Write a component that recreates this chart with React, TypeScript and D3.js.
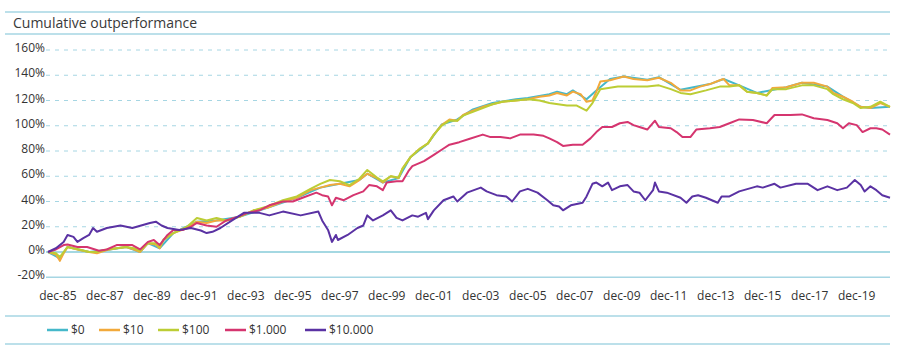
import React, { useEffect } from "react";
import * as d3 from "d3";

type Pt = [string, number];

const seriesNames = ["$0", "$10", "$100", "$1.000", "$10.000"];
const seriesColors = ["#45b8ca", "#f2a93b", "#bccd35", "#d5356f", "#5a32a3"];

const s0: Pt[] = [
  ["1985-07", 0], ["1986-01", -5], ["1986-05", 4], ["1987-04", 0], ["1988-01", 1.5], ["1988-11", 4],
  ["1989-06", 0], ["1989-10", 7], ["1990-04", 3], ["1990-11", 15], ["1991-11", 24], ["1992-09", 25],
  ["1993-09", 28], ["1994-11", 35], ["1996-02", 43], ["1997-02", 51], ["1997-12", 54], ["1998-10", 57],
  ["1999-02", 62], ["1999-10", 55], ["2000-06", 58.5], ["2000-12", 75], ["2001-09", 86], ["2002-04", 101],
  ["2002-12", 105], ["2003-08", 113], ["2004-06", 118], ["2005-06", 121], ["2005-12", 122], ["2006-11", 125],
  ["2007-03", 127], ["2007-08", 125], ["2007-11", 128], ["2008-06", 121], ["2008-11", 128], ["2009-06", 137],
  ["2010-01", 139], ["2011-01", 136.5], ["2011-07", 138.5], ["2012-06", 128.5], ["2013-09", 133], ["2014-04", 137],
  ["2014-12", 132], ["2015-09", 126], ["2016-12", 130.5], ["2017-08", 134], ["2018-09", 131], ["2019-05", 123],
  ["2020-02", 115], ["2020-07", 114], ["2021-05", 115],
];

const s10: Pt[] = [
  ["1985-07", 0], ["1985-11", -2], ["1986-01", -7], ["1986-03", -1], ["1986-05", 4], ["1986-11", 1.5],
  ["1987-04", 0], ["1987-08", -1], ["1988-01", 1.5], ["1988-06", 3], ["1988-11", 4], ["1989-03", 2],
  ["1989-06", 0], ["1989-10", 7], ["1990-02", 6], ["1990-04", 3], ["1990-06", 9.5], ["1990-11", 15],
  ["1991-06", 19], ["1991-11", 24], ["1992-04", 23], ["1992-09", 25], ["1993-02", 25], ["1993-09", 28],
  ["1994-04", 33], ["1994-11", 35], ["1995-07", 40], ["1996-02", 43], ["1996-09", 49], ["1997-02", 51],
  ["1997-07", 53], ["1997-12", 54], ["1998-05", 52], ["1998-10", 57], ["1999-02", 62], ["1999-07", 58.5],
  ["1999-10", 55], ["2000-02", 60], ["2000-06", 58.5], ["2000-08", 66], ["2000-12", 75], ["2001-05", 82],
  ["2001-09", 86], ["2001-12", 93], ["2002-04", 100.5], ["2002-08", 105], ["2002-12", 104], ["2003-03", 108.5],
  ["2003-08", 112], ["2004-01", 115], ["2004-06", 117], ["2004-11", 119], ["2005-06", 120], ["2005-12", 121],
  ["2006-06", 123], ["2006-11", 124], ["2007-03", 126], ["2007-08", 124], ["2007-11", 127], ["2008-03", 125],
  ["2008-06", 119], ["2008-09", 120], ["2008-11", 127], ["2009-01", 135], ["2009-06", 136], ["2010-01", 139],
  ["2010-06", 137], ["2011-01", 136], ["2011-07", 138], ["2012-01", 134], ["2012-06", 128], ["2012-11", 128],
  ["2013-04", 131], ["2013-09", 133], ["2014-02", 136], ["2014-04", 137], ["2014-07", 132], ["2014-12", 132],
  ["2015-04", 127], ["2015-09", 126], ["2016-02", 124], ["2016-05", 130], ["2016-12", 130.5], ["2017-08", 134],
  ["2018-02", 134], ["2018-09", 131], ["2018-12", 126], ["2019-05", 123], ["2019-10", 119], ["2020-02", 115],
  ["2020-07", 114], ["2020-12", 118], ["2021-05", 115],
];

const s100: Pt[] = [
  ["1985-07", 0], ["1985-11", -1], ["1986-01", -4], ["1986-03", 0], ["1986-05", 4], ["1986-11", 2],
  ["1987-04", 0], ["1987-08", 0], ["1988-01", 2], ["1988-06", 3], ["1988-11", 4], ["1989-03", 3],
  ["1989-06", 1], ["1989-10", 7], ["1990-02", 7], ["1990-04", 4], ["1990-06", 10], ["1990-11", 15],
  ["1991-06", 20], ["1991-11", 27], ["1992-04", 25], ["1992-09", 27], ["1993-02", 25], ["1993-09", 28],
  ["1994-04", 33], ["1994-11", 36], ["1995-07", 41], ["1996-02", 44], ["1996-09", 50], ["1997-02", 54],
  ["1997-07", 57], ["1997-12", 56], ["1998-05", 53], ["1998-10", 58], ["1999-02", 65], ["1999-07", 59],
  ["1999-10", 56], ["2000-02", 60], ["2000-06", 59], ["2000-08", 66], ["2000-12", 75], ["2001-05", 82],
  ["2001-09", 86], ["2001-12", 93], ["2002-04", 100], ["2002-08", 104], ["2002-12", 104], ["2003-03", 108],
  ["2003-08", 111], ["2004-01", 114], ["2004-06", 117], ["2004-11", 119], ["2005-06", 120], ["2005-12", 121],
  ["2006-06", 120], ["2006-11", 118], ["2007-08", 116], ["2008-01", 116], ["2008-06", 112], ["2008-09", 118],
  ["2009-01", 129], ["2009-10", 131], ["2010-06", 131], ["2011-01", 131], ["2011-07", 132], ["2012-01", 129],
  ["2012-06", 126], ["2012-11", 125], ["2013-07", 128], ["2014-02", 131], ["2014-07", 131], ["2014-12", 132],
  ["2015-04", 127], ["2015-09", 126], ["2016-02", 124], ["2016-05", 129], ["2016-12", 129], ["2017-08", 132],
  ["2018-02", 132], ["2018-09", 129], ["2018-12", 125], ["2019-05", 121], ["2019-10", 118], ["2020-02", 114],
  ["2020-07", 115], ["2020-12", 119], ["2021-05", 115],
];

const s1000: Pt[] = [
  ["1985-07", 0], ["1985-11", 2], ["1986-03", 5.5], ["1986-05", 6], ["1986-10", 4], ["1987-03", 4],
  ["1987-09", 1], ["1988-01", 2], ["1988-06", 5.5], ["1989-02", 5.5], ["1989-06", 2], ["1989-10", 8],
  ["1990-01", 9.5], ["1990-04", 5.5], ["1990-08", 13.5], ["1990-11", 17.5], ["1991-04", 17.5], ["1991-08", 20],
  ["1991-11", 23], ["1992-04", 21], ["1992-09", 20], ["1993-02", 25], ["1993-08", 28], ["1994-01", 31],
  ["1994-07", 33], ["1994-12", 37], ["1995-07", 40], ["1995-12", 40], ["1996-05", 43], ["1996-12", 47],
  ["1997-03", 45], ["1997-06", 44], ["1997-08", 37], ["1997-10", 43], ["1998-02", 41], ["1998-07", 45],
  ["1998-12", 48], ["1999-03", 53], ["1999-07", 52], ["1999-10", 49], ["1999-12", 55], ["2000-05", 56],
  ["2000-08", 56], ["2000-11", 64], ["2001-01", 68], ["2001-07", 72], ["2001-12", 77], ["2002-05", 82],
  ["2002-08", 85], ["2003-01", 87], ["2003-06", 89.5], ["2004-01", 93], ["2004-05", 91], ["2004-10", 91],
  ["2005-03", 90], ["2005-08", 93], ["2006-03", 93], ["2006-08", 92], ["2006-11", 90], ["2007-03", 87],
  ["2007-06", 84], ["2007-11", 85], ["2008-04", 85], ["2008-08", 90], ["2008-11", 95], ["2009-02", 99],
  ["2009-07", 99], ["2009-11", 102], ["2010-03", 103], ["2010-06", 100.5], ["2010-09", 99], ["2011-01", 97],
  ["2011-05", 104], ["2011-07", 99], ["2012-01", 98], ["2012-04", 95], ["2012-07", 91], ["2012-11", 91],
  ["2013-02", 97], ["2013-09", 98], ["2014-02", 99], ["2014-07", 102], ["2014-12", 105], ["2015-07", 104.5],
  ["2016-02", 102], ["2016-06", 108.5], ["2017-02", 108.5], ["2017-08", 109], ["2018-02", 106], ["2018-09", 104.5],
  ["2019-02", 102], ["2019-05", 98], ["2019-08", 102], ["2019-12", 100.5], ["2020-03", 95], ["2020-07", 98],
  ["2020-10", 98], ["2021-01", 97], ["2021-05", 93],
];

const s10000: Pt[] = [
  ["1985-07", 0], ["1985-11", 3], ["1986-03", 8], ["1986-05", 13.5], ["1986-08", 12], ["1986-10", 8],
  ["1987-01", 11], ["1987-04", 13.5], ["1987-06", 19], ["1987-08", 16], ["1988-01", 19], ["1988-08", 21],
  ["1989-02", 19], ["1989-11", 23], ["1990-02", 24], ["1990-05", 21], ["1990-08", 19], ["1991-02", 17.5],
  ["1991-08", 19], ["1992-01", 17], ["1992-04", 15], ["1992-07", 16], ["1992-11", 19], ["1993-05", 25],
  ["1993-11", 31], ["1994-07", 31], ["1994-12", 29], ["1995-07", 32], ["1996-04", 29], ["1997-01", 32],
  ["1997-03", 25], ["1997-06", 17.5], ["1997-08", 8], ["1997-10", 13.5], ["1997-11", 9.5], ["1998-04", 13.5],
  ["1998-09", 19], ["1998-12", 21], ["1999-02", 29], ["1999-05", 25], ["1999-10", 29], ["2000-02", 33],
  ["2000-05", 27], ["2000-08", 25], ["2001-01", 29], ["2001-04", 28], ["2001-08", 31], ["2001-09", 26],
  ["2001-12", 33], ["2002-05", 41], ["2002-10", 44], ["2002-12", 40], ["2003-05", 47], ["2003-12", 51],
  ["2004-03", 48], ["2004-08", 45], ["2005-01", 44], ["2005-04", 40], ["2005-08", 48], ["2005-12", 50],
  ["2006-05", 47], ["2006-10", 41], ["2007-01", 37], ["2007-04", 36], ["2007-06", 33], ["2007-10", 37],
  ["2008-04", 39], ["2008-06", 44], ["2008-09", 54], ["2008-11", 55], ["2009-02", 52], ["2009-05", 55],
  ["2009-07", 49], ["2009-11", 52], ["2010-03", 53], ["2010-06", 48], ["2010-09", 47], ["2010-12", 41],
  ["2011-04", 49], ["2011-05", 55], ["2011-07", 48], ["2011-11", 47], ["2012-06", 43], ["2012-09", 39],
  ["2012-12", 44], ["2013-03", 45], ["2013-07", 43], ["2014-01", 39], ["2014-03", 44], ["2014-07", 44],
  ["2014-12", 48], ["2015-09", 52], ["2015-12", 51], ["2016-06", 54], ["2016-09", 51], ["2017-05", 54],
  ["2017-11", 54], ["2018-04", 49], ["2018-09", 52], ["2019-02", 49], ["2019-07", 51], ["2019-11", 57],
  ["2020-02", 53], ["2020-04", 48], ["2020-07", 52], ["2020-10", 49], ["2021-01", 45], ["2021-05", 43],
];

const allSeries = [s0, s10, s100, s1000, s10000];

const yTicks = [-20, 0, 20, 40, 60, 80, 100, 120, 140, 160];
const xTickYears = [1985, 1987, 1989, 1991, 1993, 1995, 1997, 1999, 2001, 2003, 2005, 2007, 2009, 2011, 2013, 2015, 2017, 2019];

const FONT = "'Open Sans', 'Noto Sans', sans-serif";
const W = 907;
const H = 357;

export default function App() {
  useEffect(() => {
    document.body.style.margin = "0";
  }, []);

  const parse = d3.timeParse("%Y-%m");
  const x = d3
    .scaleTime()
    .domain([new Date(1985, 6, 1), new Date(2021, 4, 1)])
    .range([48, 890]);
  const y = d3.scaleLinear().domain([-20, 160]).range([277.25, 50]);

  const line = d3
    .line<Pt>()
    .x((d) => x(parse(d[0]) as Date))
    .y((d) => y(d[1]))
    .curve(d3.curveLinear);

  const ruleColor = "#a6d6e3";
  const legendX = [47, 99, 158, 225, 305];

  return (
    <svg width={W} height={H} style={{ position: "absolute", left: 0, top: 0, display: "block" }} fontFamily={FONT}>
      <rect width={W} height={H} fill="#ffffff" />
      <line x1={5} x2={890} y1={12} y2={12} stroke={ruleColor} strokeWidth={1.5} />
      <text x={13} y={28} fontSize={14} fill="#3a3a3a">Cumulative outperformance</text>
      <line x1={5} x2={890} y1={34} y2={34} stroke={ruleColor} strokeWidth={1.5} />

      {yTicks.map((t) => (
        <g key={t}>
          {t === 0 || t === -20 ? (
            <line x1={46} x2={890} y1={y(t)} y2={y(t)} stroke={t === 0 ? "#86cbd9" : ruleColor} strokeWidth={1.5} />
          ) : (
            <line x1={46} x2={890} y1={y(t)} y2={y(t)} stroke={ruleColor} strokeWidth={1} strokeDasharray="4,5" />
          )}
          <text x={45} y={y(t) + 2} fontSize={12} fill="#333" textAnchor="end">{t}%</text>
        </g>
      ))}

      {xTickYears.map((yr) => (
        <text key={yr} x={x(new Date(yr, 11, 1))} y={300} fontSize={12} fill="#333" textAnchor="middle">
          {"dec-" + String(yr).slice(2)}
        </text>
      ))}

      {allSeries.map((s, i) => (
        <path key={i} d={line(s) || ""} fill="none" stroke={seriesColors[i]} strokeWidth={2} strokeLinejoin="round" />
      ))}

      <line x1={5} x2={890} y1={316} y2={316} stroke={ruleColor} strokeWidth={1.5} />
      {seriesNames.map((n, i) => (
        <g key={n}>
          <line x1={legendX[i]} x2={legendX[i] + 21} y1={330} y2={330} stroke={seriesColors[i]} strokeWidth={2.5} />
          <text x={legendX[i] + 24} y={334} fontSize={12} fill="#333">{n}</text>
        </g>
      ))}
      <line x1={5} x2={890} y1={344} y2={344} stroke={ruleColor} strokeWidth={1.5} />
    </svg>
  );
}
